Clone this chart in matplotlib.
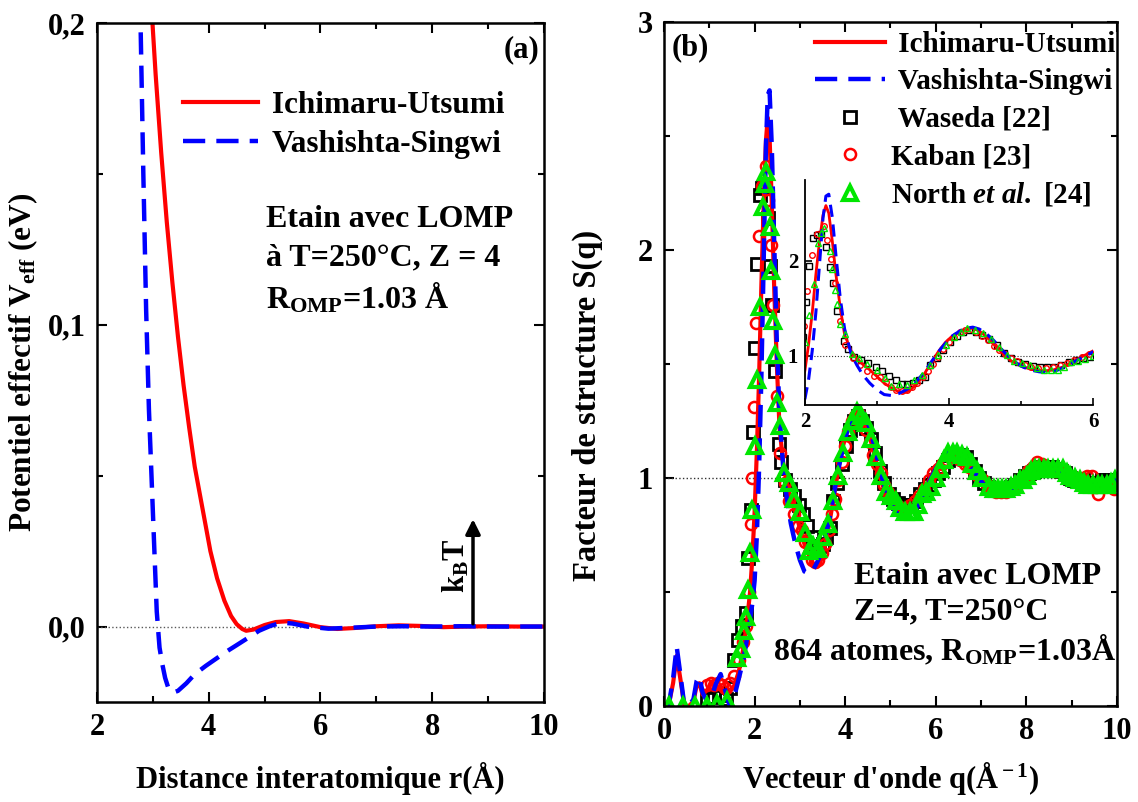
import numpy as np
import matplotlib.pyplot as plt

plt.rcParams['font.family'] = 'Liberation Serif'
plt.rcParams['font.weight'] = 'bold'
plt.rcParams['axes.labelweight'] = 'bold'
plt.rcParams['mathtext.fontset'] = 'custom'
plt.rcParams['mathtext.rm'] = 'Liberation Serif:bold'
plt.rcParams['mathtext.bf'] = 'Liberation Serif:bold'
plt.rcParams['mathtext.it'] = 'Liberation Serif:italic:bold'

# ---- panel (a): effective potential ----
r_iu = [2.96, 3.05, 3.15, 3.25, 3.35, 3.45, 3.55, 3.65, 3.75, 3.90,
        4.03, 4.15, 4.28, 4.40, 4.50, 4.60, 4.67, 4.80, 5.00, 5.20,
        5.44, 5.70, 6.00, 6.30, 6.60, 7.00, 7.40, 7.80, 8.20, 8.60,
        9.00, 9.50, 10.0]
v_iu = [0.210, 0.183, 0.157, 0.134, 0.114, 0.096, 0.080, 0.066, 0.053, 0.038,
        0.025, 0.016, 0.0086, 0.0035, 0.0008, -0.0008, -0.0014, -0.0010, 0.0005, 0.0015,
        0.0018, 0.0010, -0.0002, -0.0008, -0.0005, 0.0001, 0.0004, 0.0002, -0.0002, 0.0,
        0.0001, 0.0, 0.0]

r_vs = [2.74, 2.78, 2.83, 2.88, 2.93, 2.98, 3.03, 3.07, 3.12, 3.17,
        3.22, 3.28, 3.36, 3.45, 3.60, 3.75, 3.95, 4.16, 4.30, 4.48,
        4.70, 4.90, 5.10, 5.31, 5.50, 5.76, 6.14, 6.65, 7.00, 7.48,
        8.00, 8.50, 9.00, 9.50, 10.0]
v_vs = [0.23, 0.20, 0.15, 0.105, 0.072, 0.048, 0.024, 0.005, -0.007, -0.0125,
        -0.017, -0.0205, -0.0219, -0.0213, -0.0188, -0.0158, -0.0130, -0.0103, -0.0085, -0.0064,
        -0.0038, -0.0014, 0.0002, 0.0013, 0.0010, 0.0, -0.0007, -0.0003, 0.0, 0.0001,
        0.0, 0.0001, 0.0, 0.0, 0.0]

kbt_r = 8.73
kbt_v = 0.0365

# ---- panel (b): structure factor ----
q_th = [0.00, 0.10, 0.20, 0.28, 0.36, 0.45, 0.55, 0.65, 0.72, 0.78,
        0.85, 0.95, 1.05, 1.15, 1.25, 1.35, 1.45, 1.55, 1.65, 1.75,
        1.82, 1.90, 1.95, 2.00, 2.05, 2.10, 2.15, 2.20, 2.25, 2.29,
        2.33, 2.38, 2.43, 2.49, 2.55, 2.64, 2.72, 2.80, 2.90, 3.00,
        3.10, 3.20, 3.30, 3.38, 3.45, 3.55, 3.65, 3.75, 3.85, 3.95,
        4.05, 4.15, 4.25, 4.33, 4.42, 4.52, 4.62, 4.75, 4.87, 5.00,
        5.12, 5.25, 5.35, 5.45, 5.58, 5.70, 5.85, 6.00, 6.15, 6.28,
        6.40, 6.52, 6.65, 6.80, 6.95, 7.10, 7.25, 7.40, 7.55, 7.70,
        7.85, 8.00, 8.15, 8.30, 8.45, 8.60, 8.80, 9.00, 9.20, 9.40,
        9.60, 9.80, 10.00]
s_iu = [0.00, 0.00, 0.10, 0.22, 0.12, 0.00, 0.00, 0.02, 0.09, 0.10,
        0.05, 0.07, 0.10, 0.09, 0.08, 0.06, 0.06, 0.09, 0.15, 0.25,
        0.35, 0.50, 0.65, 0.85, 1.12, 1.45, 1.85, 2.20, 2.48, 2.58,
        2.50, 2.20, 1.85, 1.50, 1.22, 1.05, 0.97, 0.91, 0.85, 0.78,
        0.71, 0.66, 0.62, 0.61, 0.63, 0.70, 0.80, 0.92, 1.04, 1.14,
        1.21, 1.25, 1.28, 1.29, 1.26, 1.20, 1.12, 1.02, 0.94, 0.89,
        0.86, 0.84, 0.84, 0.85, 0.88, 0.93, 0.99, 1.05, 1.09, 1.11,
        1.11, 1.10, 1.07, 1.03, 0.99, 0.96, 0.94, 0.93, 0.94, 0.96,
        0.99, 1.02, 1.05, 1.06, 1.06, 1.05, 1.03, 1.01, 0.99, 0.985,
        0.98, 0.98, 0.98]
s_vs = [0.00, 0.00, 0.12, 0.26, 0.14, 0.00, 0.00, 0.03, 0.11, 0.13,
        0.06, 0.02, 0.04, 0.10, 0.14, 0.07, 0.00, 0.04, 0.12, 0.20,
        0.28, 0.38, 0.45, 0.55, 0.75, 1.05, 1.45, 1.95, 2.45, 2.68,
        2.70, 2.45, 2.05, 1.60, 1.28, 1.02, 0.90, 0.80, 0.71, 0.64,
        0.59, 0.58, 0.60, 0.63, 0.66, 0.73, 0.82, 0.93, 1.04, 1.13,
        1.21, 1.26, 1.29, 1.30, 1.28, 1.23, 1.16, 1.05, 0.96, 0.89,
        0.85, 0.83, 0.82, 0.83, 0.87, 0.92, 0.98, 1.04, 1.09, 1.11,
        1.12, 1.11, 1.08, 1.04, 1.00, 0.96, 0.94, 0.93, 0.93, 0.95,
        0.98, 1.01, 1.04, 1.05, 1.05, 1.04, 1.02, 1.00, 0.99, 0.985,
        0.985, 0.99, 0.99]

# Waseda [22]
q_w = [0.95, 1.10, 1.25, 1.36, 1.45, 1.54, 1.64, 1.72, 1.80, 1.86,
       1.92, 1.97, 2.01, 2.06, 2.11, 2.16, 2.22, 2.29, 2.34, 2.39,
       2.45, 2.54, 2.59, 2.68, 2.78, 2.88, 2.98, 3.07, 3.16, 3.26,
       3.34, 3.42, 3.50, 3.58, 3.66, 3.74, 3.83, 3.92, 4.01, 4.11,
       4.20, 4.28, 4.37, 4.46, 4.56, 4.66, 4.76, 4.86, 4.96, 5.06,
       5.16, 5.26, 5.36, 5.46, 5.56, 5.66, 5.76, 5.86, 5.96, 6.06,
       6.16, 6.26, 6.36, 6.46, 6.56, 6.66, 6.76, 6.86, 6.96, 7.06,
       7.16, 7.26, 7.36, 7.46, 7.56, 7.66, 7.76, 7.86, 7.96, 8.06,
       8.16, 8.26, 8.36, 8.46, 8.56, 8.66, 8.76, 8.86, 8.96, 9.06,
       9.16, 9.26, 9.36, 9.46, 9.56, 9.66, 9.76, 9.86, 9.96]
s_w = [0.03, 0.04, 0.05, 0.03, 0.08, 0.20, 0.29, 0.35, 0.41, 0.65,
       0.86, 1.20, 1.57, 1.94, 2.24, 2.27, 2.28, 2.14, 1.93, 1.76,
       1.47, 1.15, 1.07, 0.99, 0.95, 0.92, 0.88, 0.84, 0.79, 0.74,
       0.70, 0.70, 0.71, 0.74, 0.78, 0.90, 0.98, 1.06, 1.14, 1.21,
       1.25, 1.27, 1.25, 1.22, 1.17, 1.11, 1.03, 0.98, 0.93, 0.91,
       0.89, 0.88, 0.88, 0.88, 0.90, 0.93, 0.95, 0.97, 0.99, 1.02,
       1.05, 1.08, 1.10, 1.10, 1.10, 1.09, 1.06, 1.03, 1.00, 0.98,
       0.96, 0.95, 0.95, 0.95, 0.95, 0.96, 0.97, 0.99, 1.01, 1.02,
       1.03, 1.04, 1.05, 1.05, 1.05, 1.04, 1.03, 1.02, 1.00, 0.99,
       0.99, 0.99, 0.98, 0.98, 0.98, 0.99, 0.99, 0.99, 0.99]

# Kaban [23]
q_k = [0.95, 1.03, 1.11, 1.19, 1.27, 1.35, 1.45, 1.55, 1.65, 1.74,
       1.81, 1.88, 1.92, 1.95, 1.98, 2.03, 2.09, 2.17, 2.26, 2.30,
       2.36, 2.41, 2.49, 2.56, 2.66, 2.76, 2.86, 2.96, 3.04, 3.12,
       3.20, 3.27, 3.34, 3.41, 3.49, 3.56, 3.64, 3.71, 3.78, 3.85,
       3.92, 4.00, 4.07, 4.15, 4.22, 4.30, 4.38, 4.46, 4.54, 4.62,
       4.70, 4.78, 4.86, 4.95, 5.05, 5.14, 5.24, 5.34, 5.44, 5.54,
       5.64, 5.74, 5.84, 5.94, 6.04, 6.14, 6.24, 6.34, 6.44, 6.54,
       6.64, 6.74, 6.84, 6.94, 7.04, 7.14, 7.24, 7.34, 7.44, 7.54,
       7.64, 7.74, 7.84, 7.94, 8.04, 8.14, 8.24, 8.34, 8.44, 8.54,
       8.64, 8.74, 8.84, 8.94, 9.04, 9.14, 9.24, 9.34, 9.44, 9.54,
       9.58, 9.74, 9.84, 9.94]
s_k = [0.09, 0.10, 0.09, 0.10, 0.09, 0.08, 0.10, 0.13, 0.20, 0.28,
       0.35, 0.50, 0.80, 1.00, 1.31, 1.68, 2.06, 2.28, 2.37, 2.22,
       2.02, 1.76, 1.36, 1.11, 0.98, 0.90, 0.84, 0.79, 0.77, 0.72,
       0.67, 0.64, 0.63, 0.64, 0.67, 0.71, 0.77, 0.84, 0.91, 0.99,
       1.07, 1.14, 1.20, 1.25, 1.27, 1.28, 1.25, 1.21, 1.16, 1.10,
       1.06, 1.02, 0.97, 0.94, 0.90, 0.88, 0.87, 0.87, 0.88, 0.90,
       0.92, 0.95, 0.99, 1.02, 1.04, 1.06, 1.08, 1.09, 1.09, 1.08,
       1.06, 1.05, 1.03, 1.01, 0.99, 0.97, 0.95, 0.94, 0.94, 0.94,
       0.95, 0.96, 0.98, 1.00, 1.03, 1.05, 1.07, 1.06, 1.05, 1.04,
       1.03, 1.03, 1.02, 1.01, 1.00, 1.00, 1.00, 1.01, 1.01, 0.96,
       0.93, 0.97, 0.97, 0.95]

# North et al. [24]
q_n = [0.11, 0.41, 0.68, 0.94, 1.17, 1.39, 1.62, 1.70, 1.77, 1.81,
       1.86, 1.90, 1.95, 2.00, 2.06, 2.13, 2.18, 2.22, 2.26, 2.34,
       2.37, 2.41, 2.45, 2.49, 2.56, 2.65, 2.75, 2.86, 3.00, 3.11,
       3.19, 3.30, 3.41, 3.52, 3.63, 3.74, 3.85, 3.96, 4.07, 4.16,
       4.25, 4.36, 4.47, 4.58, 4.69, 4.80, 4.90, 5.01, 5.12, 5.22,
       5.32, 5.42, 5.52, 5.60, 5.69, 5.79, 5.89, 6.00, 6.10, 6.19,
       6.28, 6.37, 6.46, 6.57, 6.68, 6.79, 6.90, 7.03, 7.17, 7.28,
       7.38, 7.47, 7.56, 7.66, 7.76, 7.85, 7.93, 8.02, 8.11, 8.20,
       8.28, 8.38, 8.48, 8.58, 8.70, 8.81, 8.90, 8.96, 9.08, 9.18,
       9.27, 9.36, 9.47, 9.58, 9.68, 9.77, 9.86, 9.95]
s_n = [0.00, 0.00, 0.00, 0.00, 0.01, 0.02, 0.21, 0.25, 0.33, 0.39,
       0.51, 0.67, 0.86, 1.14, 1.43, 1.75, 2.19, 2.29, 2.34, 2.10,
       1.91, 1.69, 1.54, 1.33, 1.23, 1.02, 0.98, 0.91, 0.85, 0.76,
       0.68, 0.70, 0.69, 0.74, 0.80, 0.90, 1.01, 1.11, 1.20, 1.25,
       1.29, 1.27, 1.24, 1.17, 1.09, 1.01, 0.94, 0.92, 0.90, 0.87,
       0.85, 0.85, 0.85, 0.88, 0.93, 0.94, 0.96, 1.00, 1.04, 1.08,
       1.11, 1.11, 1.11, 1.10, 1.09, 1.06, 1.03, 1.00, 0.96, 0.95,
       0.95, 0.95, 0.95, 0.96, 0.97, 0.99, 0.99, 1.01, 1.03, 1.04,
       1.04, 1.04, 1.04, 1.04, 1.04, 1.04, 1.02, 1.01, 1.00, 0.99,
       0.98, 0.97, 0.97, 0.97, 0.97, 0.97, 0.98, 0.99]

red = '#ff0000'
blue = '#0000ff'
green = '#00e600'
dash = (0, (5, 2.5))


def style_ticks(ax, size=22, length=7):
    ax.tick_params(which='both', direction='in', top=True, right=True,
                   width=1.5, labelsize=size, pad=8)
    ax.tick_params(which='major', length=length)
    ax.tick_params(which='minor', length=length * 0.6)
    for s in ax.spines.values():
        s.set_linewidth(1.8)


fig = plt.figure(figsize=(11.38, 8.02), dpi=100)

# ---------------- (a) ----------------
ax1 = fig.add_axes([0.0852, 0.1247, 0.3928, 0.8466])
ax1.axhline(0, color='0.35', ls=':', lw=1)
ax1.plot(r_iu, v_iu, color=red, lw=3, label='Ichimaru-Utsumi')
ax1.plot(r_vs, v_vs, color=blue, lw=3.2, ls=dash, label='Vashishta-Singwi')
ax1.annotate('', xy=(kbt_r, kbt_v), xytext=(kbt_r, 0.0),
             arrowprops=dict(arrowstyle='-|>', color='k', lw=2.5, mutation_scale=22))
ax1.text(kbt_r - 0.3, kbt_v * 0.55, r'k$_{\rm B}$T', rotation=90, fontsize=22,
         ha='center', va='center')
ax1.set_xlim(2, 10)
ax1.set_ylim(-0.025, 0.2)
ax1.set_xticks([2, 4, 6, 8, 10])
ax1.set_xticks([3, 5, 7, 9], minor=True)
ax1.set_yticks([0.0, 0.1, 0.2])
ax1.set_yticklabels(['0,0', '0,1', '0,2'])
ax1.set_yticks([0.05, 0.15], minor=True)
style_ticks(ax1)
ax1.set_xlabel('Distance interatomique r(Å)', fontsize=22, labelpad=14)
ax1.set_ylabel(r'Potentiel effectif V$_{\rm eff}$ (eV)', fontsize=22.5, labelpad=6)
ax1.text(0.99, 0.982, '(a)', transform=ax1.transAxes, ha='right', va='top', fontsize=22)
ax1.legend(loc='upper left', bbox_to_anchor=(0.192, 0.9), frameon=False, fontsize=22.5,
           handlelength=2.4, handletextpad=0.45, labelspacing=0.33,
           borderpad=0, borderaxespad=0)
ax1.text(0.378, 0.71, 'Etain avec LOMP', transform=ax1.transAxes, fontsize=23, va='center')
ax1.text(0.378, 0.654, 'à T=250°C, Z = 4', transform=ax1.transAxes, fontsize=23, va='center')
ax1.text(0.378, 0.595, r'R$_{\rm OMP}$=1.03 Å', transform=ax1.transAxes, fontsize=23,
         va='center')

# ---------------- (b) ----------------
ax2 = fig.add_axes([0.5835, 0.1197, 0.398, 0.8529])
ax2.axhline(1, color='0.2', ls=':', lw=1)
ax2.plot(q_w, s_w, ls='none', marker='s', ms=8, mfc='none', mec='k', mew=2,
         label=' Waseda [22]')
ax2.plot(q_k, s_k, ls='none', marker='o', ms=8, mfc='none', mec=red, mew=1.8,
         label='Kaban [23]')
ax2.plot(q_th, s_iu, color=red, lw=3, label=' Ichimaru-Utsumi')
ax2.plot(q_th, s_vs, color=blue, lw=3.2, ls=dash, label=' Vashishta-Singwi')
ax2.plot(q_n, s_n, ls='none', marker='^', ms=10, mfc='none', mec=green, mew=3,
         label=r'North $\it{et\ al.}$ [24]')
ax2.set_xlim(0, 10)
ax2.set_ylim(0, 3)
ax2.set_xticks([0, 2, 4, 6, 8, 10])
ax2.set_xticks([1, 3, 5, 7, 9], minor=True)
ax2.set_yticks([0, 1, 2, 3])
ax2.set_yticks([0.5, 1.5, 2.5], minor=True)
style_ticks(ax2)
ax2.set_xlabel(r"Vecteur d'onde q(Å$^{\rm -1}$)", fontsize=22, labelpad=10)
ax2.set_ylabel('Facteur de structure S(q)', fontsize=23.5)
ax2.yaxis.set_label_coords(-0.135, 0.44)
ax2.text(0.057, 0.962, '(b)', transform=ax2.transAxes, ha='center', va='center', fontsize=22)
h, l = ax2.get_legend_handles_labels()
order = [2, 3, 0, 1, 4]
ax2.legend([h[i] for i in order], [l[i] for i in order], loc='upper left',
           bbox_to_anchor=(0.333, 0.987), frameon=False, fontsize=21, handlelength=2.4,
           handletextpad=0.2, labelspacing=0.36, borderpad=0, borderaxespad=0)
ax2.text(0.42, 0.19, 'Etain avec LOMP', transform=ax2.transAxes, fontsize=23, va='center')
ax2.text(0.42, 0.136, 'Z=4, T=250°C', transform=ax2.transAxes, fontsize=23, va='center')
ax2.text(0.998, 0.082, r'864 atomes, R$_{\rm OMP}$=1.03Å', transform=ax2.transAxes,
         fontsize=23, va='center', ha='right')

# ---------------- inset ----------------
axin = fig.add_axes([0.7074, 0.495, 0.2531, 0.2806])
axin.patch.set_alpha(0)
axin.axhline(1, color='0.2', ls=':', lw=0.8)
axin.plot(q_w, s_w, ls='none', marker='s', ms=4, mfc='none', mec='k', mew=1)
axin.plot(q_k, s_k, ls='none', marker='o', ms=4, mfc='none', mec=red, mew=1)
axin.plot(q_th, s_iu, color=red, lw=2)
axin.plot(q_th, s_vs, color=blue, lw=2.2, ls=(0, (4, 2.5)))
axin.plot(q_n, s_n, ls='none', marker='^', ms=4.5, mfc='none', mec=green, mew=1)
axin.set_xlim(2, 6)
axin.set_ylim(0.48, 2.85)
axin.set_xticks([2, 4, 6])
axin.set_xticks([3, 5], minor=True)
axin.set_yticks([1, 2])
axin.spines['top'].set_visible(False)
axin.spines['right'].set_visible(False)
axin.tick_params(which='both', direction='in', labelsize=15, width=1.2, pad=5)
axin.tick_params(which='major', length=5)
axin.tick_params(which='minor', length=3)
for s in ['left', 'bottom']:
    axin.spines[s].set_linewidth(1.3)

fig.savefig('out.png', dpi=100)
